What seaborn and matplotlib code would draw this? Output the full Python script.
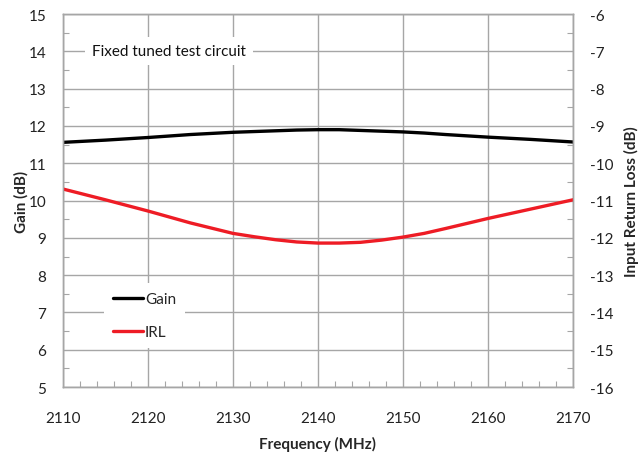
import matplotlib
matplotlib.use("Agg")
import matplotlib.pyplot as plt
import seaborn as sns
import pandas as pd
from matplotlib.ticker import MultipleLocator

sns.set_theme(style="white")
plt.rcParams["font.family"] = ["Lato", "DejaVu Sans"]
plt.rcParams["axes.unicode_minus"] = False

# Measured data, fixed tuned test circuit
freq_mhz = [2110, 2115, 2120, 2125, 2130, 2132.5, 2135, 2137.5, 2140, 2142.5,
            2145, 2147.5, 2150, 2152.5, 2155, 2160, 2165, 2170]
gain_db = [11.56, 11.62, 11.69, 11.77, 11.83, 11.85, 11.87, 11.89, 11.90, 11.90,
           11.88, 11.86, 11.84, 11.81, 11.77, 11.70, 11.64, 11.57]
irl_db = [-10.69, -10.98, -11.28, -11.60, -11.88, -11.97, -12.05, -12.11, -12.14, -12.14,
          -12.12, -12.06, -11.98, -11.88, -11.75, -11.48, -11.23, -10.98]

df = pd.DataFrame({"Frequency": freq_mhz, "Gain": gain_db, "IRL": irl_db})

grid_c = "#A6A6A6"
red = "#EE1C25"
fs = 11

fig = plt.figure(figsize=(6.42, 4.56), dpi=100)
ax = fig.add_axes([0.098, 0.149, 0.7945, 0.818])
ax2 = ax.twinx()

sns.lineplot(data=df, x="Frequency", y="Gain", ax=ax, color="black", lw=2.4, label="Gain", legend=False)
sns.lineplot(data=df, x="Frequency", y="IRL", ax=ax2, color=red, lw=2.4, label="IRL", legend=False)

ax.set_xlim(2110, 2170)
ax.set_ylim(5, 15)
ax2.set_ylim(-16, -6)

ax.xaxis.set_major_locator(MultipleLocator(10))
ax.xaxis.set_minor_locator(MultipleLocator(2))
ax.yaxis.set_major_locator(MultipleLocator(1))
ax.yaxis.set_minor_locator(MultipleLocator(0.5))
ax2.yaxis.set_major_locator(MultipleLocator(1))
ax2.yaxis.set_minor_locator(MultipleLocator(0.5))

ax.grid(True, which="major", color=grid_c, lw=1.0)
ax.set_axisbelow(True)

for a in (ax, ax2):
    for s in a.spines.values():
        s.set_color(grid_c)
        s.set_linewidth(1.0)

ax.tick_params(axis="x", which="major", length=0, pad=17, labelsize=fs, colors="#222222")
ax.tick_params(axis="x", which="minor", direction="in", length=4, width=0.8, color=grid_c, bottom=True)
ax.tick_params(axis="y", which="major", length=0, pad=12, labelsize=fs, colors="#222222")
ax.tick_params(axis="y", which="minor", direction="in", length=4, width=0.8, color=grid_c, left=True)
ax2.tick_params(axis="y", which="major", length=0, pad=12, labelsize=fs, colors="#222222")
ax2.tick_params(axis="y", which="minor", direction="in", length=4, width=0.8, color=grid_c, right=True)

ax.set_xlabel("Frequency (MHz)", fontsize=fs, fontweight="bold", labelpad=8)
ax.set_ylabel("Gain (dB)", fontsize=fs, fontweight="bold", labelpad=0)
ax2.set_ylabel("Input Return Loss (dB)", fontsize=fs, fontweight="bold", labelpad=8)

ax.text(2113.4, 14.0, "Fixed tuned test circuit", fontsize=fs, va="center", ha="left",
        color="#111111", bbox=dict(facecolor="white", edgecolor="none", pad=5))

h1, l1 = ax.get_legend_handles_labels()
h2, l2 = ax2.get_legend_handles_labels()
leg = ax2.legend(h1 + h2, l1 + l2, loc="upper left", bbox_to_anchor=(0.065, 0.30),
                 frameon=True, fontsize=fs, handlelength=1.95, handletextpad=0.15,
                 labelspacing=1.25, borderpad=0.6)
leg.get_frame().set_edgecolor("none")
leg.get_frame().set_facecolor("white")
leg.get_frame().set_alpha(1.0)

fig.savefig("out.png", dpi=100)
